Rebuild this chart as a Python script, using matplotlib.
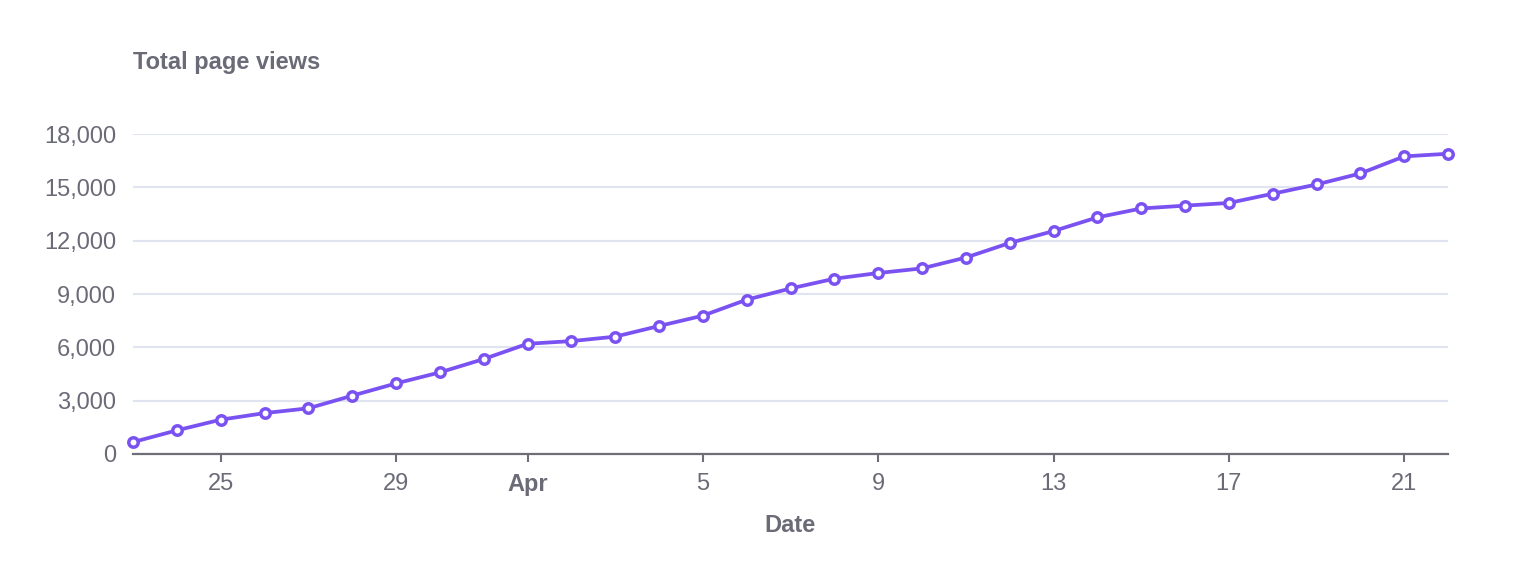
import datetime as dt
import matplotlib
matplotlib.use("Agg")
import matplotlib.pyplot as plt
import matplotlib.dates as mdates
from matplotlib.ticker import FuncFormatter

# data
start = dt.datetime(2020, 3, 23)
views = [670, 1330, 1930, 2300, 2570, 3280, 3970, 4590, 5340, 6200,
         6350, 6600, 7200, 7780, 8680, 9310, 9860, 10180, 10440, 11050,
         11870, 12540, 13310, 13810, 13970, 14120, 14640, 15160, 15780, 16740,
         16890]
days = [start + dt.timedelta(days=i) for i in range(len(views))]
y_ticks = [0, 3000, 6000, 9000, 12000, 15000, 18000]

text_color = "#6b6b78"
line_color = "#7b52f2"
grid_color = "#e0e3f0"

plt.rcParams['font.family'] = ['Liberation Sans', 'DejaVu Sans']

fig = plt.figure(figsize=(15.4, 5.82), dpi=100)
ax = fig.add_axes([133/1540, 1-454/582, (1448-133)/1540, 320/582])

ax.plot(days, views, color=line_color, lw=2.7, marker="o", ms=6.8,
        mfc="white", mec=line_color, mew=2.5, clip_on=False, zorder=3)

ax.set_xlim(days[0], days[-1])
ax.set_ylim(0, 18000)
ax.set_yticks(y_ticks)
ax.yaxis.set_major_formatter(FuncFormatter(lambda v, p: f"{int(v):,}"))

ax.xaxis.set_major_locator(mdates.DayLocator(bymonthday=[1, 5, 9, 13, 17, 21, 25, 29]))

def fmt_day(v, p):
    d = mdates.num2date(v)
    return d.strftime("%b") if d.day == 1 else str(d.day)

ax.xaxis.set_major_formatter(FuncFormatter(fmt_day))

for s in ["top", "right", "left"]:
    ax.spines[s].set_visible(False)
ax.spines["bottom"].set_color("#6e6e76")
ax.spines["bottom"].set_linewidth(1.6)

ax.grid(axis="y", color=grid_color, lw=1.5)
ax.set_axisbelow(True)

ax.tick_params(axis="y", length=0, pad=12, labelsize=17, labelcolor=text_color)
ax.tick_params(axis="x", length=6, width=1.5, color="#6e6e76", pad=8,
               labelsize=17, labelcolor=text_color)
for lab in ax.get_xticklabels():
    if lab.get_text() == "Apr":
        lab.set_fontweight("bold")

fig.text(133/1540, 1-62/582, "Total page views", fontsize=17, fontweight="bold",
         color=text_color, ha="left", va="center")
fig.text((133+1448)/2/1540, 1-525/582, "Date", fontsize=17, fontweight="bold",
         color=text_color, ha="center", va="center")

fig.savefig("out.png", dpi=100)
